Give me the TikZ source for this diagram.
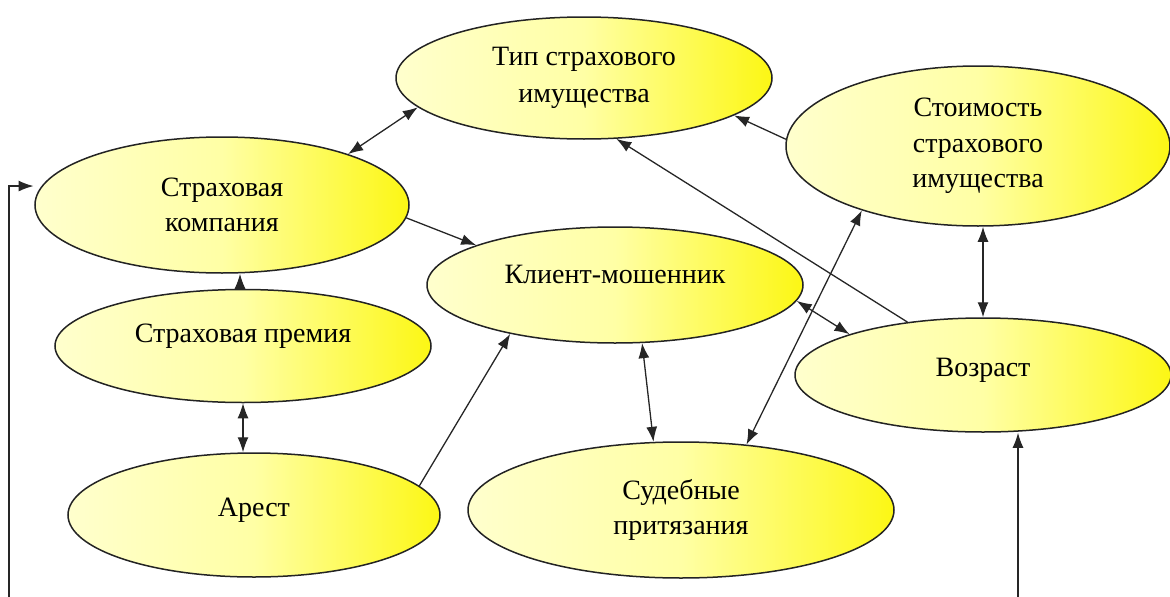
\documentclass[tikz,border=0pt]{standalone}
\usepackage{fontspec}
\setmainfont{Liberation Serif}
\usetikzlibrary{arrows.meta,shapes.geometric,calc}
\definecolor{pale}{RGB}{255,255,205}
\definecolor{midy}{RGB}{255,255,165}
\definecolor{bright}{RGB}{252,247,20}
\definecolor{edge}{RGB}{35,35,35}
\begin{document}
\begin{tikzpicture}[x=1pt,y=-1pt,
  ell/.style={ellipse, draw=edge, line width=1.5pt, inner sep=0pt,
    left color=pale, right color=bright, middle color=midy,
    align=center, font=\fontsize{28}{35.5}\selectfont},
  conn/.style={draw=black!85, line width=1.3pt},
  one/.style={conn, -{Latex[length=15pt,width=11pt]}},
  dbl/.style={conn, {Latex[length=15pt,width=11pt]}-{Latex[length=15pt,width=11pt]}}]
\useasboundingbox (0,0) rectangle (1170,597);
\node[ell, minimum width=376pt, minimum height=122pt, font=\fontsize{28}{37}\selectfont] (tip) at (584,78) {Тип страхового\\имущества};
\node[ell, minimum width=374pt, minimum height=136pt] (strk) at (222,205) {Страховая\\компания};
\node[ell, minimum width=384pt, minimum height=160pt] (stoim) at (978,146) {Стоимость\\страхового\\имущества};
\node[ell, minimum width=376pt, minimum height=116pt] (klient) at (615,285) {\raisebox{21pt}{Клиент-мошенник}};
\node[ell, minimum width=376pt, minimum height=113pt] (prem) at (243,346) {\raisebox{26pt}{Страховая премия}};
\node[ell, minimum width=372pt, minimum height=124pt] (arest) at (254,515) {\raisebox{15pt}{Арест}};
\node[ell, minimum width=426pt, minimum height=136pt] (sud) at (681,510) {Судебные\\притязания};
\node[ell, minimum width=376pt, minimum height=114pt] (vozr) at (983,375) {\raisebox{15pt}{Возраст}};
\coordinate (L1) at (9,597);
\coordinate (R1) at (1018,597);
% connectors
\draw[dbl] (strk.22.9) -- (tip.-170.6);
\draw[one] (strk.-4.1) -- (klient.164.8);
\draw[one] ([xshift=-3pt]prem.north) -- ([xshift=-3pt]prem.north |- strk.south);
\draw[dbl] (prem.south) -- (prem.south |- arest.north);
\draw[one] (arest.10.9) -- (klient.-155.3);
\draw[dbl] (klient.-65.8) -- (sud.112.7);
\draw[dbl] (klient.-5.9) -- (vozr.163.3);
\draw[one] (stoim.178.8) -- (tip.-14.2);
\draw[one] (vozr.145.8) -- (tip.-62.7);
\draw[dbl] (sud.45.8) -- (stoim.-151.5);
\draw[dbl] (vozr.north |- stoim.south) -- (vozr.north);
\draw[one, shorten >=8pt] (L1) |- (strk.174.6);
\draw[one] (R1) -- (R1 |- vozr.south);
\end{tikzpicture}
\end{document}
